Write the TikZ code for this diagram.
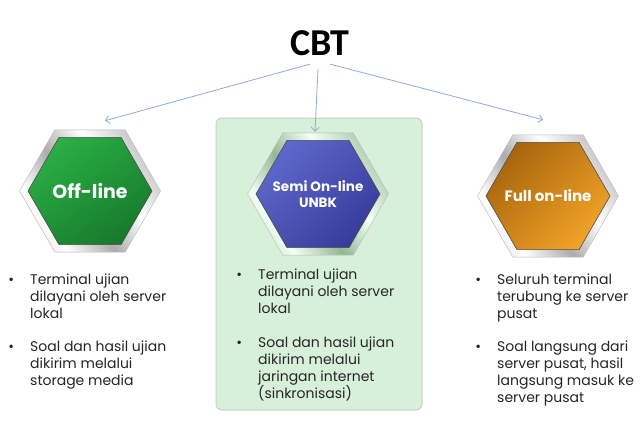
\documentclass[tikz,border=0pt]{standalone}
\usepackage{fontspec}
\setmainfont{Poppins}
\newfontfamily\titlefont{Carlito}
\usetikzlibrary{shapes.geometric,arrows.meta}

\definecolor{arrowblue}{HTML}{8FAADC}
\definecolor{panelgreen}{HTML}{D7F0D9}
\definecolor{panelline}{HTML}{C9CFC9}
\definecolor{textgray}{HTML}{262626}
\definecolor{offtop}{HTML}{2AAE45}
\definecolor{offbot}{HTML}{177A2C}
\definecolor{semitop}{HTML}{5E68CC}
\definecolor{semibot}{HTML}{363C9A}
\definecolor{fulltop}{HTML}{A8650C}
\definecolor{fullbot}{HTML}{F2A428}

\pgfdeclarehorizontalshading{rimsilver}{100bp}{color(0bp)=(gray!85); color(30bp)=(white); color(45bp)=(gray!65); color(60bp)=(white); color(80bp)=(gray!60); color(100bp)=(white)}
\pgfdeclarehorizontalshading{rimgreen}{100bp}{color(0bp)=(green!20!gray!90); color(30bp)=(green!5!white); color(45bp)=(green!20!gray!70); color(60bp)=(green!5!white); color(80bp)=(green!20!gray!65); color(100bp)=(white)}

\begin{document}
\begin{tikzpicture}[x=1pt, y=-1pt,
    hexrim/.style={regular polygon, regular polygon sides=6, minimum size=141pt,
        inner sep=0pt, draw=gray!55, line width=0.4pt, shading=rimsilver, shading angle=35},
    hexcore/.style={regular polygon, regular polygon sides=6, minimum size=124pt,
        inner sep=0pt, draw=black!70, line width=0.6pt},
    hexlabel/.style={text=white, align=center, inner sep=0pt},
    link/.style={-{Straight Barb[length=4pt,width=8pt]}, draw=arrowblue, line width=0.8pt},
    bulletbox/.style={anchor=north west, inner sep=0pt, align=left, text=textgray,
        font=\fontsize{14}{17}\selectfont}
]
    \useasboundingbox (0,0) rectangle (640,421);
    \fill[white] (0,0) rectangle (640,421);

    % 1. Judul
    \node[font=\titlefont\bfseries\fontsize{38}{38}\selectfont] (cbt) at (320,43) {CBT};

    % 2. Panel tengah
    \node[draw=panelline, fill=panelgreen, rounded corners=6pt, line width=1pt,
        minimum width=206pt, minimum height=292pt] (panel) at (319,264) {};

    % 3. Heksagon
    \node[hexrim] (offrim) at (90,191) {};
    \node[hexcore, top color=offtop, bottom color=offbot, shading angle=35] (off) at (offrim.center) {};
    \node[hexlabel, font=\bfseries\fontsize{19}{22}\selectfont] (offtxt) at (off.center) {Off-line};

    \node[hexrim, shading=rimgreen, shading angle=35] (semirim) at (318,194) {};
    \node[hexcore, top color=semitop, bottom color=semibot, shading angle=45] (semi) at (semirim.center) {};
    \node[hexlabel, font=\bfseries\fontsize{13.5}{16}\selectfont] (semitxt) at (semi.center) {Semi On-line\\UNBK};

    \node[hexrim] (fullrim) at (548,196) {};
    \node[hexcore, top color=fulltop, bottom color=fullbot, shading angle=45] (full) at (fullrim.center) {};
    \node[hexlabel, font=\bfseries\fontsize{15}{18}\selectfont] (fulltxt) at (full.center) {Full on-line};

    % 4. Panah
    \draw[link] ([xshift=-10pt,yshift=-5pt]cbt.south) -- ([xshift=15pt,yshift=9pt]offrim.north);
    \draw[link] ([xshift=-2pt,yshift=-10pt]cbt.south) -- ([xshift=-3pt,yshift=1pt]semirim.north);
    \draw[link] ([xshift=10pt,yshift=-5pt]cbt.south) -- ([xshift=-5pt,yshift=15pt]fullrim.north);

    % 5. Keterangan
    \node[bulletbox] (off1) at (30,274) {\llap{\textbullet\hspace{16pt}}Terminal ujian\\dilayani oleh server\\lokal};
    \node[bulletbox] (off2) at (30,341) {\llap{\textbullet\hspace{16pt}}Soal dan hasil ujian\\dikirim melalui\\storage media};

    \node[bulletbox] (semi1) at (258,269) {\llap{\textbullet\hspace{16pt}}Terminal ujian\\dilayani oleh server\\lokal};
    \node[bulletbox] (semi2) at (258,337) {\llap{\textbullet\hspace{16pt}}Soal dan hasil ujian\\dikirim melalui\\jaringan internet\\(sinkronisasi)};

    \node[bulletbox] (full1) at (497,274) {\llap{\textbullet\hspace{16pt}}Seluruh terminal\\terubung ke server\\pusat};
    \node[bulletbox] (full2) at (497,341) {\llap{\textbullet\hspace{16pt}}Soal langsung dari\\server pusat, hasil\\langsung masuk ke\\server pusat};
\end{tikzpicture}
\end{document}
